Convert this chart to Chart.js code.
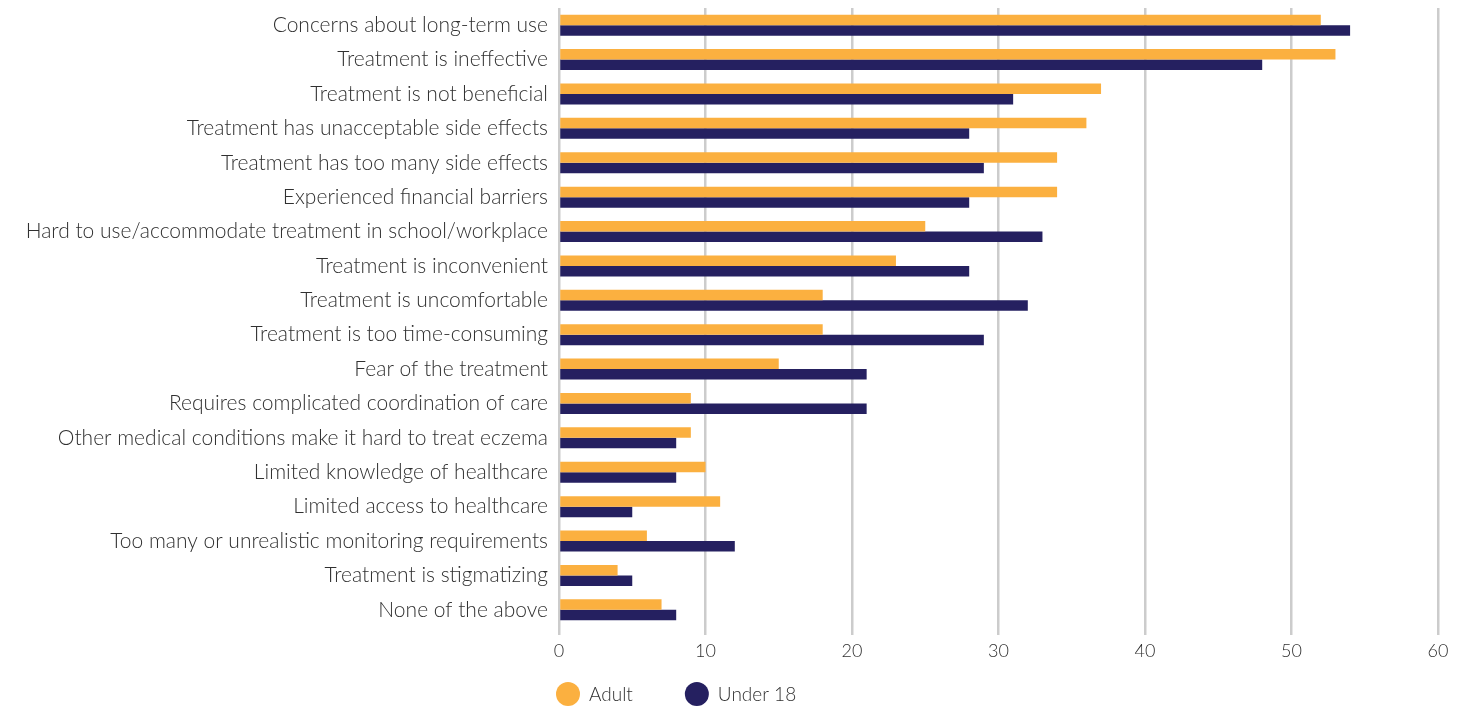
<!DOCTYPE html>
<html>
<head>
<meta charset="utf-8">
<script src="https://cdn.jsdelivr.net/npm/chart.js@4.4.1/dist/chart.umd.min.js"></script>
<style>
    html, body { margin: 0; padding: 0; background: #fff; }
    #wrap { width: 1464px; height: 707px; position: relative; }
</style>
</head>
<body>
<div id="wrap"><canvas id="barriersChart"></canvas></div>
<script>
// Reasons for not using treatment (percent of respondents)
const categories = [
    'Concerns about long-term use',
    'Treatment is ineffective',
    'Treatment is not beneficial',
    'Treatment has unacceptable side effects',
    'Treatment has too many side effects',
    'Experienced financial barriers',
    'Hard to use/accommodate treatment in school/workplace',
    'Treatment is inconvenient',
    'Treatment is uncomfortable',
    'Treatment is too time-consuming',
    'Fear of the treatment',
    'Requires complicated coordination of care',
    'Other medical conditions make it hard to treat eczema',
    'Limited knowledge of healthcare',
    'Limited access to healthcare',
    'Too many or unrealistic monitoring requirements',
    'Treatment is stigmatizing',
    'None of the above'
];
const adultValues = [52, 53, 37, 36, 34, 34, 25, 23, 18, 18, 15, 9, 9, 10, 11, 6, 4, 7];
const under18Values = [54, 48, 31, 28, 29, 28, 33, 28, 32, 29, 21, 21, 8, 8, 5, 12, 5, 8];
const xTicks = [0, 10, 20, 30, 40, 50, 60];

const FONT = 'Lato, "Open Sans", sans-serif';
const TEXT = '#303030';

// Legend drawn under the plot, starting at the left edge of the chart area
const dotLegend = {
    id: 'dotLegend',
    afterDraw(chart) {
        const { ctx, chartArea } = chart;
        const r = 12;
        const y = 694;
        let x = chartArea.left - 3;
        ctx.save();
        ctx.font = '300 19px ' + FONT;
        ctx.textBaseline = 'middle';
        ctx.textAlign = 'left';
        chart.data.datasets.forEach((ds) => {
            ctx.beginPath();
            ctx.fillStyle = ds.backgroundColor;
            ctx.arc(x + r, y, r, 0, Math.PI * 2);
            ctx.fill();
            ctx.fillStyle = TEXT;
            const tx = x + r + 21;
            ctx.fillText(ds.label, tx, y + 1);
            x = tx + ctx.measureText(ds.label).width + 52;
        });
        ctx.restore();
    }
};

new Chart(document.getElementById('barriersChart'), {
    type: 'bar',
    data: {
        labels: categories,
        datasets: [
            {
                label: 'Adult',
                data: adultValues,
                backgroundColor: '#FBB040',
                borderWidth: 0,
                categoryPercentage: 0.61,
                barPercentage: 1.0
            },
            {
                label: 'Under 18',
                data: under18Values,
                backgroundColor: '#252060',
                borderWidth: 0,
                categoryPercentage: 0.61,
                barPercentage: 1.0
            }
        ]
    },
    options: {
        indexAxis: 'y',
        responsive: true,
        maintainAspectRatio: false,
        animation: false,
        layout: {
            padding: { top: 8, right: 26, bottom: 42, left: 0 }
        },
        plugins: {
            legend: { display: false },
            tooltip: { enabled: false }
        },
        scales: {
            x: {
                min: 0,
                max: 60,
                afterBuildTicks: (scale) => {
                    scale.ticks = xTicks.map(v => ({ value: v }));
                },
                afterFit: (scale) => { scale.height = 38; },
                grid: {
                    color: '#cccccc',
                    lineWidth: 2.5,
                    tickLength: 8,
                    drawTicks: true
                },
                border: { display: false },
                ticks: {
                    padding: 5,
                    color: TEXT,
                    font: { family: FONT, size: 18, weight: 300 }
                }
            },
            y: {
                afterFit: (scale) => {
                    scale.width = 559;
                    scale.paddingTop = 0;
                    scale.paddingBottom = 0;
                },
                grid: { display: false },
                border: { display: false },
                ticks: {
                    padding: 3,
                    color: TEXT,
                    autoSkip: false,
                    font: { family: FONT, size: 21, weight: 300 }
                }
            }
        }
    },
    plugins: [dotLegend]
});
</script>
</body>
</html>
